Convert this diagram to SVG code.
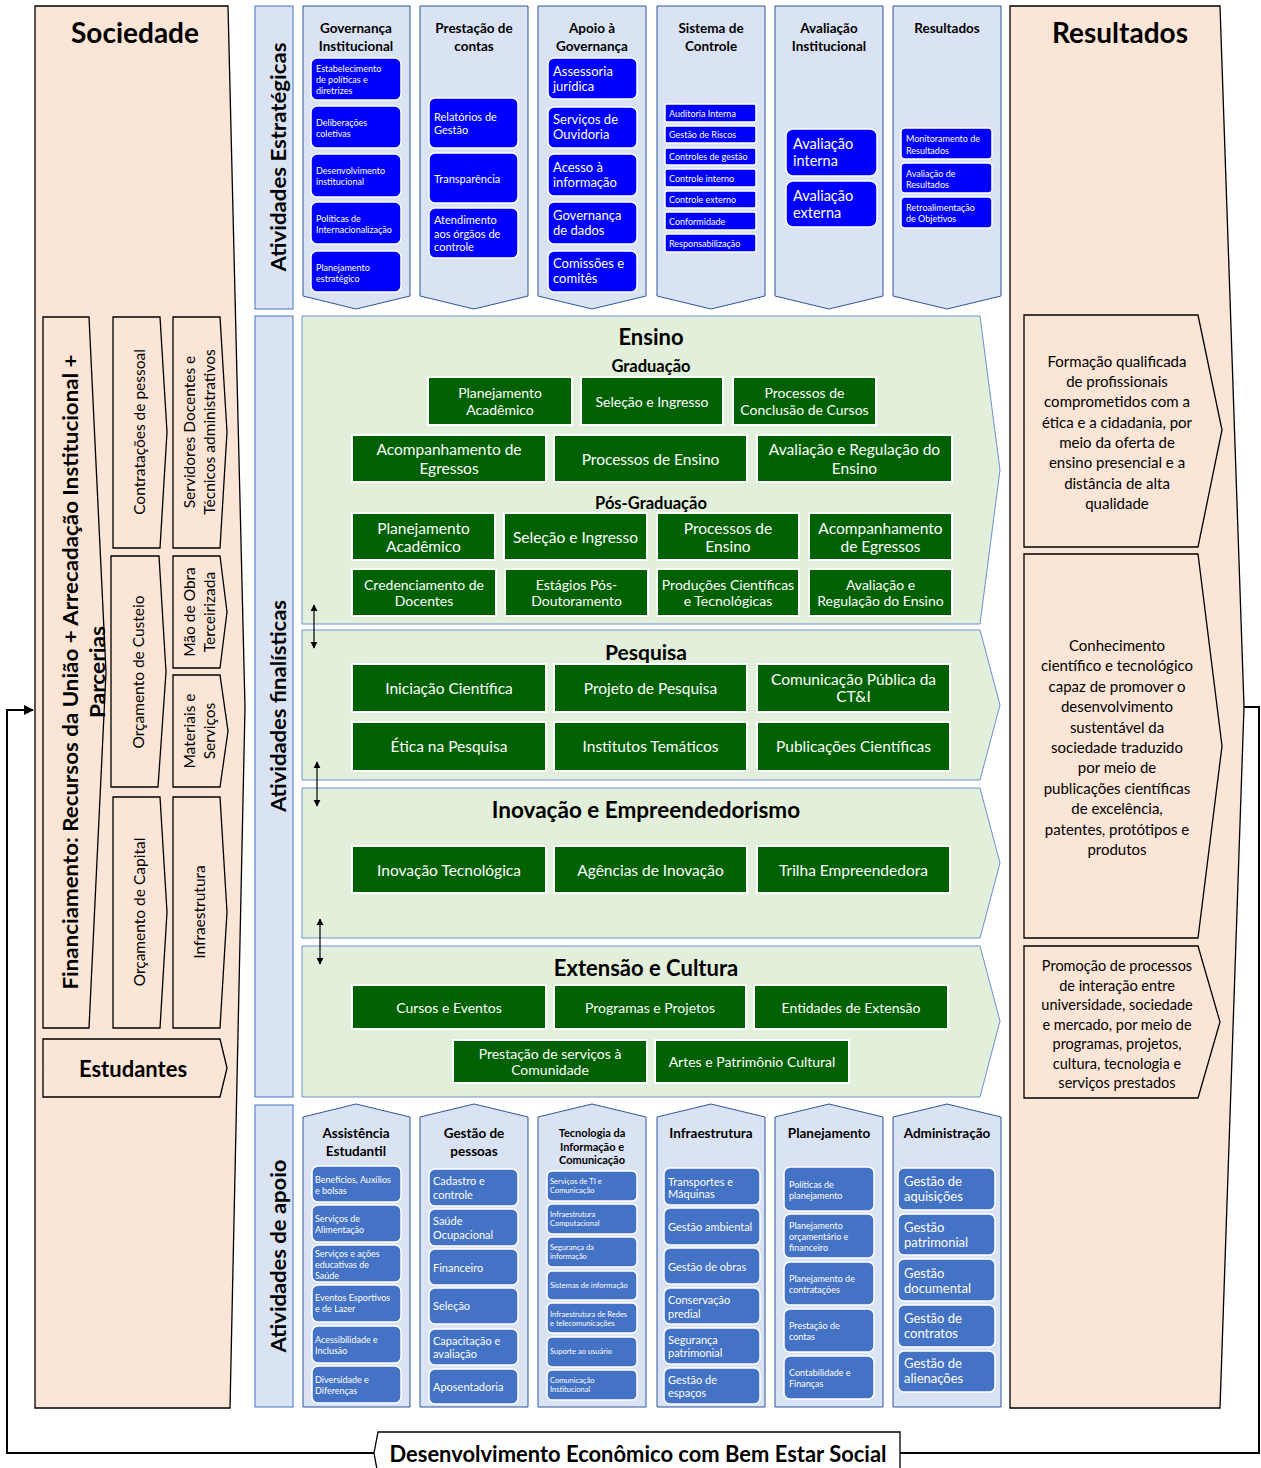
<svg xmlns="http://www.w3.org/2000/svg" width="1261" height="1468" viewBox="0 0 1261 1468">
<style>
text{font-family:Lato,"Open Sans","Noto Sans",sans-serif;dominant-baseline:central;fill:#000}
.w{fill:#fff}
.b{font-weight:bold}
.m{text-anchor:middle}
.sb{fill:#0000ff;stroke:#fff;stroke-width:1.5}
.ab{fill:#4472c4;stroke:#fff;stroke-width:1.5}
.gb{fill:#006100;stroke:#fff;stroke-width:2}
.col{fill:#dae3f3;stroke:#2f5597;stroke-width:1}
.lab{fill:#dae3f3;stroke:#4472c4;stroke-width:1}
.fin{fill:#e2efda;stroke:#6f8fcf;stroke-width:1}
.pe{fill:#fbe5d6;stroke:#000;stroke-width:1.3}
.s9{font-size:9px}.s11{font-size:11px}.s13{font-size:13px}.s14{font-size:14px}.s15{font-size:15px}.s16{font-size:15.5px}
.ln{fill:none;stroke:#000;stroke-width:2}
.dl{stroke:#000;stroke-width:1.2;marker-start:url(#ah);marker-end:url(#ah)}
</style>
<defs>
<marker id="ah" viewBox="0 0 10 10" refX="9" refY="5" markerWidth="6" markerHeight="6" orient="auto-start-reverse"><path d="M0,0 L10,5 L0,10 z" fill="#000"/></marker>
<marker id="ah2" viewBox="0 0 10 10" refX="9" refY="5" markerWidth="5" markerHeight="5" orient="auto"><path d="M0,0 L10,5 L0,10 z" fill="#000"/></marker>
</defs>
<rect width="1261" height="1468" fill="#fff"/>

<!-- Sociedade -->
<g id="sociedade">
<polygon class="pe" points="35,6 228,6 245,707 230,1408 35,1408"/>
<text class="b m" x="135" y="32" font-size="28">Sociedade</text>
</g>
<g id="financiamento">
<polygon class="pe" points="43,317 89,317 106,672 89,1028 43,1028"/>
<text class="b m" font-size="21.5" textLength="635" lengthAdjust="spacingAndGlyphs" transform="translate(70,672) rotate(-90)">Financiamento: Recursos da União + Arrecadação Institucional +</text>
<text class="b m" font-size="21.5" textLength="92" lengthAdjust="spacingAndGlyphs" transform="translate(97,672) rotate(-90)">Parcerias</text>
</g>
<g id="contratacoes">
<polygon class="pe" points="113,317 160,317 167,432 160,548 113,548"/>
<text class="m s16" transform="translate(139,432) rotate(-90)">Contratações de pessoal</text>
</g>
<g id="servidores">
<polygon class="pe" points="173,317 220,317 227,432 220,548 173,548"/>
<text class="m s16" transform="translate(189,432) rotate(-90)">Servidores  Docentes e</text>
<text class="m s16" transform="translate(209,432) rotate(-90)">Técnicos administrativos</text>
</g>
<g id="custeio">
<polygon class="pe" points="111,556 159,556 166,672 158,787 111,787"/>
<text class="m s16" transform="translate(138,672) rotate(-90)">Orçamento de Custeio</text>
</g>
<g id="maodeobra">
<polygon class="pe" points="173,556 220,556 227,612 220,668 173,668"/>
<text class="m s16" transform="translate(189,612) rotate(-90)">Mão de Obra</text>
<text class="m s16" transform="translate(209,612) rotate(-90)">Terceirizada</text>
</g>
<g id="materiais">
<polygon class="pe" points="173,675 220,675 228,731 220,787 173,787"/>
<text class="m s16" transform="translate(189,731) rotate(-90)">Materiais e</text>
<text class="m s16" transform="translate(209,731) rotate(-90)">Serviços</text>
</g>
<g id="capital">
<polygon class="pe" points="113,797 160,797 167,912 160,1028 113,1028"/>
<text class="m s16" transform="translate(139,912) rotate(-90)">Orçamento de Capital</text>
</g>
<g id="infra-soc">
<polygon class="pe" points="173,797 220,797 227,912 220,1028 173,1028"/>
<text class="m s16" transform="translate(199,912) rotate(-90)">Infraestrutura</text>
</g>
<g id="estudantes">
<polygon class="pe" points="43,1039 220,1039 227,1068 220,1097 43,1097"/>
<text class="b m" x="133" y="1068" font-size="22">Estudantes</text>
</g>

<!-- Resultados -->
<g id="resultados">
<polygon class="pe" points="1010,6 1220,6 1244,707 1220,1408 1010,1408"/>
<text class="b m" x="1120" y="32" font-size="28">Resultados</text>
</g>
<g id="res1">
<polygon class="pe" points="1024,315 1198,315 1222,430 1198,547 1024,547"/>
<text class="m s15" x="1117"><tspan x="1117" y="361">Formação qualificada</tspan><tspan x="1117" y="381">de profissionais</tspan><tspan x="1117" y="401">comprometidos com a</tspan><tspan x="1117" y="422">ética e a cidadania, por</tspan><tspan x="1117" y="442">meio da oferta de</tspan><tspan x="1117" y="462">ensino presencial e a</tspan><tspan x="1117" y="483">distância de alta</tspan><tspan x="1117" y="503">qualidade</tspan></text>
</g>
<g id="res2">
<polygon class="pe" points="1024,554 1198,554 1222,746 1198,938 1024,938"/>
<text class="m s15" x="1117"><tspan x="1117" y="645">Conhecimento</tspan><tspan x="1117" y="665">científico e tecnológico</tspan><tspan x="1117" y="686">capaz de promover o</tspan><tspan x="1117" y="706">desenvolvimento</tspan><tspan x="1117" y="727">sustentável da</tspan><tspan x="1117" y="747">sociedade traduzido</tspan><tspan x="1117" y="767">por meio de</tspan><tspan x="1117" y="788">publicações científicas</tspan><tspan x="1117" y="808">de excelência,</tspan><tspan x="1117" y="829">patentes, protótipos e</tspan><tspan x="1117" y="849">produtos</tspan></text>
</g>
<g id="res3">
<polygon class="pe" points="1024,946 1198,946 1220,1022 1198,1098 1024,1098"/>
<text class="m" font-size="14.5" x="1117"><tspan x="1117" y="965">Promoção de processos</tspan><tspan x="1117" y="985">de interação entre</tspan><tspan x="1117" y="1004">universidade, sociedade</tspan><tspan x="1117" y="1024">e mercado, por meio de</tspan><tspan x="1117" y="1043">programas, projetos,</tspan><tspan x="1117" y="1063">cultura, tecnologia  e</tspan><tspan x="1117" y="1082">serviços prestados</tspan></text>
</g>

<!-- Labels -->
<g id="lab-estr"><rect class="lab" x="255" y="6" width="38" height="303"/><text class="b m" font-size="21" textLength="229" lengthAdjust="spacingAndGlyphs" transform="translate(277,157) rotate(-90)">Atividades Estratégicas</text></g>
<g id="lab-fin"><rect class="lab" x="255" y="316" width="38" height="781"/><text class="b m" font-size="21" textLength="212" lengthAdjust="spacingAndGlyphs" transform="translate(277,706) rotate(-90)">Atividades finalísticas</text></g>
<g id="lab-apoio"><rect class="lab" x="255" y="1105" width="38" height="302"/><text class="b m" font-size="21" textLength="193" lengthAdjust="spacingAndGlyphs" transform="translate(277,1256) rotate(-90)">Atividades de apoio</text></g>

<!-- Strategic columns -->
<g id="governanca">
<polygon class="col" points="303,6 410,6 410,296 356,309 303,296"/>
<text class="b m" font-size="13.5" x="356" y="28">Governança</text><text class="b m" font-size="13.5" x="356" y="46">Institucional</text>
<rect class="sb" x="311" y="58" width="90" height="42" rx="6"/><text class="w s9" x="316"><tspan x="316" y="68">Estabelecimento</tspan><tspan x="316" y="79">de políticas e</tspan><tspan x="316" y="90">diretrizes</tspan></text>
<rect class="sb" x="311" y="106" width="90" height="42" rx="6"/><text class="w s9"><tspan x="316" y="122">Deliberações</tspan><tspan x="316" y="133">coletivas</tspan></text>
<rect class="sb" x="311" y="154" width="90" height="43" rx="6"/><text class="w s9"><tspan x="316" y="170">Desenvolvimento</tspan><tspan x="316" y="181">institucional</tspan></text>
<rect class="sb" x="311" y="202" width="90" height="42" rx="6"/><text class="w s9"><tspan x="316" y="218">Políticas de</tspan><tspan x="316" y="229">Internacionalização</tspan></text>
<rect class="sb" x="311" y="251" width="90" height="41" rx="6"/><text class="w s9"><tspan x="316" y="267">Planejamento</tspan><tspan x="316" y="278">estratégico</tspan></text>
</g>
<g id="prestacao">
<polygon class="col" points="420,6 528,6 528,296 474,309 420,296"/>
<text class="b m" font-size="13.5" x="474" y="28">Prestação de</text><text class="b m" font-size="13.5" x="474" y="46">contas</text>
<rect class="sb" x="429" y="98" width="89" height="50" rx="6"/><text class="w s11"><tspan x="434" y="116">Relatórios de</tspan><tspan x="434" y="129">Gestão</tspan></text>
<rect class="sb" x="429" y="153" width="89" height="50" rx="6"/><text class="w s11" x="434" y="178">Transparência</text>
<rect class="sb" x="429" y="208" width="89" height="50" rx="6"/><text class="w s11"><tspan x="434" y="219">Atendimento</tspan><tspan x="434" y="233">aos órgãos de</tspan><tspan x="434" y="246">controle</tspan></text>
</g>
<g id="apoio-gov">
<polygon class="col" points="538,6 646,6 646,296 592,309 538,296"/>
<text class="b m" font-size="13.5" x="592" y="28">Apoio à</text><text class="b m" font-size="13.5" x="592" y="46">Governança</text>
<rect class="sb" x="548" y="58" width="89" height="41" rx="6"/><text class="w s13"><tspan x="553" y="71">Assessoria</tspan><tspan x="553" y="86">jurídica</tspan></text>
<rect class="sb" x="548" y="107" width="89" height="41" rx="6"/><text class="w s13"><tspan x="553" y="119">Serviços de</tspan><tspan x="553" y="134">Ouvidoria</tspan></text>
<rect class="sb" x="548" y="154" width="89" height="42" rx="6"/><text class="w s13"><tspan x="553" y="167">Acesso à</tspan><tspan x="553" y="182">informação</tspan></text>
<rect class="sb" x="548" y="202" width="89" height="42" rx="6"/><text class="w s13"><tspan x="553" y="215">Governança</tspan><tspan x="553" y="230">de dados</tspan></text>
<rect class="sb" x="548" y="251" width="89" height="41" rx="6"/><text class="w s13"><tspan x="553" y="263">Comissões e</tspan><tspan x="553" y="278">comitês</tspan></text>
</g>
<g id="sistema-controle">
<polygon class="col" points="657,6 765,6 765,296 711,309 657,296"/>
<text class="b m" font-size="13.5" x="711" y="28">Sistema de</text><text class="b m" font-size="13.5" x="711" y="46">Controle</text>
<rect class="sb" x="665" y="104" width="91" height="18" rx="2"/><text class="w s9" x="669" y="113">Auditoria Interna</text>
<rect class="sb" x="665" y="126" width="91" height="17" rx="2"/><text class="w s9" x="669" y="134.5">Gestão de Riscos</text>
<rect class="sb" x="665" y="148" width="91" height="17" rx="2"/><text class="w s9" x="669" y="156.5">Controles de gestão</text>
<rect class="sb" x="665" y="169" width="91" height="18" rx="2"/><text class="w s9" x="669" y="178">Controle interno</text>
<rect class="sb" x="665" y="191" width="91" height="17" rx="2"/><text class="w s9" x="669" y="199.5">Controle externo</text>
<rect class="sb" x="665" y="212" width="91" height="18" rx="2"/><text class="w s9" x="669" y="221">Conformidade</text>
<rect class="sb" x="665" y="234" width="91" height="18" rx="2"/><text class="w s9" x="669" y="243">Responsabilização</text>
</g>
<g id="avaliacao-inst">
<polygon class="col" points="775,6 883,6 883,296 829,309 775,296"/>
<text class="b m" font-size="13.5" x="829" y="28">Avaliação</text><text class="b m" font-size="13.5" x="829" y="46">Institucional</text>
<rect class="sb" x="786" y="129" width="91" height="47" rx="7"/><text class="w" font-size="14.5"><tspan x="793" y="143">Avaliação</tspan><tspan x="793" y="160">interna</tspan></text>
<rect class="sb" x="786" y="181" width="91" height="46" rx="7"/><text class="w" font-size="14.5"><tspan x="793" y="195">Avaliação</tspan><tspan x="793" y="212">externa</tspan></text>
</g>
<g id="resultados-estr">
<polygon class="col" points="893,6 1001,6 1001,296 947,309 893,296"/>
<text class="b m" font-size="13.5" x="947" y="28">Resultados</text>
<rect class="sb" x="901" y="128" width="91" height="31" rx="4"/><text class="w s9"><tspan x="906" y="138">Monitoramento de</tspan><tspan x="906" y="150">Resultados</tspan></text>
<rect class="sb" x="901" y="163" width="91" height="30" rx="4"/><text class="w s9"><tspan x="906" y="173">Avaliação de</tspan><tspan x="906" y="184">Resultados</tspan></text>
<rect class="sb" x="901" y="197" width="91" height="31" rx="4"/><text class="w s9"><tspan x="906" y="207">Retroalimentação</tspan><tspan x="906" y="218">de Objetivos</tspan></text>
</g>

<!-- Finalistic -->
<g id="ensino">
<polygon class="fin" points="302,316 980,316 1000,470 980,624 302,624"/>
<text class="b m" x="651" y="336" font-size="22">Ensino</text>
<text class="b m" x="651" y="366" font-size="16.5">Graduação</text>
<rect class="gb" x="428" y="377" width="144" height="48"/><text class="w m s14"><tspan x="500" y="392">Planejamento</tspan><tspan x="500" y="409">Acadêmico</tspan></text>
<rect class="gb" x="581" y="377" width="142" height="48"/><text class="w m s14" x="652" y="401">Seleção e Ingresso</text>
<rect class="gb" x="733" y="377" width="143" height="48"/><text class="w m s14"><tspan x="804.5" y="392">Processos de</tspan><tspan x="804.5" y="409">Conclusão de Cursos</tspan></text>
<rect class="gb" x="352" y="435" width="194" height="47"/><text class="w m s16"><tspan x="449" y="449">Acompanhamento de</tspan><tspan x="449" y="468">Egressos</tspan></text>
<rect class="gb" x="554" y="435" width="193" height="47"/><text class="w m s16" x="650.5" y="458.5">Processos de Ensino</text>
<rect class="gb" x="757" y="435" width="195" height="47"/><text class="w m s16"><tspan x="854.5" y="449">Avaliação e Regulação do</tspan><tspan x="854.5" y="468">Ensino</tspan></text>
<text class="b m" x="651" y="503" font-size="16.5">Pós-Graduação</text>
<rect class="gb" x="352" y="513" width="143" height="47"/><text class="w m s16"><tspan x="423.5" y="528">Planejamento</tspan><tspan x="423.5" y="546">Acadêmico</tspan></text>
<rect class="gb" x="504" y="513" width="143" height="47"/><text class="w m s16" x="575.5" y="537">Seleção e Ingresso</text>
<rect class="gb" x="657" y="513" width="142" height="47"/><text class="w m s16"><tspan x="728" y="528">Processos de</tspan><tspan x="728" y="546">Ensino</tspan></text>
<rect class="gb" x="809" y="513" width="143" height="47"/><text class="w m s16"><tspan x="880.5" y="528">Acompanhamento</tspan><tspan x="880.5" y="546">de Egressos</tspan></text>
<rect class="gb" x="352" y="569" width="144" height="47"/><text class="w m s14"><tspan x="424" y="584">Credenciamento de</tspan><tspan x="424" y="600">Docentes</tspan></text>
<rect class="gb" x="505" y="569" width="143" height="47"/><text class="w m s14"><tspan x="576.5" y="584">Estágios Pós-</tspan><tspan x="576.5" y="600">Doutoramento</tspan></text>
<rect class="gb" x="657" y="569" width="142" height="47"/><text class="w m s14"><tspan x="728" y="584">Produções Científicas</tspan><tspan x="728" y="600">e Tecnológicas</tspan></text>
<rect class="gb" x="809" y="569" width="143" height="47"/><text class="w m s14"><tspan x="880.5" y="584">Avaliação e</tspan><tspan x="880.5" y="600">Regulação do Ensino</tspan></text>
</g>
<g id="pesquisa">
<polygon class="fin" points="302,630 980,630 1000,705 980,780 302,780"/>
<text class="b m" x="646" y="651" font-size="21">Pesquisa</text>
<rect class="gb" x="352" y="664" width="194" height="48"/><text class="w m s16" x="449" y="688">Iniciação Científica</text>
<rect class="gb" x="554" y="664" width="193" height="48"/><text class="w m s16" x="650.5" y="688">Projeto de Pesquisa</text>
<rect class="gb" x="757" y="664" width="193" height="48"/><text class="w m s16"><tspan x="853.5" y="679">Comunicação Pública da</tspan><tspan x="853.5" y="696">CT&amp;I</tspan></text>
<rect class="gb" x="352" y="722" width="194" height="49"/><text class="w m s16" x="449" y="746">Ética na Pesquisa</text>
<rect class="gb" x="554" y="722" width="193" height="49"/><text class="w m s16" x="650.5" y="746">Institutos Temáticos</text>
<rect class="gb" x="757" y="722" width="193" height="49"/><text class="w m s16" x="853.5" y="746">Publicações Científicas</text>
</g>
<g id="inovacao">
<polygon class="fin" points="302,788 980,788 1000,863 980,938 302,938"/>
<text class="b m" x="646" y="809" font-size="22.5">Inovação e Empreendedorismo</text>
<rect class="gb" x="352" y="846" width="194" height="47"/><text class="w m s16" x="449" y="870">Inovação Tecnológica</text>
<rect class="gb" x="554" y="846" width="193" height="47"/><text class="w m s16" x="650.5" y="870">Agências de Inovação</text>
<rect class="gb" x="757" y="846" width="193" height="47"/><text class="w m s16" x="853.5" y="870">Trilha Empreendedora</text>
</g>
<g id="extensao">
<polygon class="fin" points="302,946 980,946 1000,1021 980,1097 302,1097"/>
<text class="b m" x="646" y="967" font-size="22">Extensão e Cultura</text>
<rect class="gb" x="352" y="985" width="194" height="44"/><text class="w m s14" x="449" y="1007">Cursos e Eventos</text>
<rect class="gb" x="554" y="985" width="192" height="44"/><text class="w m s14" x="650" y="1007">Programas e Projetos</text>
<rect class="gb" x="754" y="985" width="194" height="44"/><text class="w m s14" x="851" y="1007">Entidades de Extensão</text>
<rect class="gb" x="453" y="1040" width="194" height="43"/><text class="w m s14"><tspan x="550" y="1053">Prestação de serviços à</tspan><tspan x="550" y="1069">Comunidade</tspan></text>
<rect class="gb" x="655" y="1040" width="194" height="43"/><text class="w m s14" x="752" y="1061">Artes e Patrimônio Cultural</text>
</g>

<!-- Support columns -->
<g id="assistencia">
<polygon class="col" points="303,1117 356,1104 410,1117 410,1407 303,1407"/>
<text class="b m" font-size="13.5" x="356" y="1133">Assistência</text><text class="b m" font-size="13.5" x="356" y="1151">Estudantil</text>
<rect class="ab" x="312" y="1166" width="89" height="36" rx="6"/><text class="w s9"><tspan x="315" y="1179">Benefícios, Auxílios</tspan><tspan x="315" y="1190">e bolsas</tspan></text>
<rect class="ab" x="312" y="1205" width="89" height="37" rx="6"/><text class="w s9"><tspan x="315" y="1218">Serviços de</tspan><tspan x="315" y="1229">Alimentação</tspan></text>
<rect class="ab" x="312" y="1245" width="89" height="37" rx="6"/><text class="w s9"><tspan x="315" y="1253">Serviços e ações</tspan><tspan x="315" y="1264">educativas de</tspan><tspan x="315" y="1275">Saúde</tspan></text>
<rect class="ab" x="312" y="1285" width="89" height="37" rx="6"/><text class="w s9"><tspan x="315" y="1297">Eventos Esportivos</tspan><tspan x="315" y="1308">e de Lazer</tspan></text>
<rect class="ab" x="312" y="1326" width="89" height="37" rx="6"/><text class="w s9"><tspan x="315" y="1339">Acessibilidade e</tspan><tspan x="315" y="1350">Inclusão</tspan></text>
<rect class="ab" x="312" y="1366" width="89" height="37" rx="6"/><text class="w s9"><tspan x="315" y="1379">Diversidade e</tspan><tspan x="315" y="1390">Diferenças</tspan></text>
</g>
<g id="gestao-pessoas">
<polygon class="col" points="420,1117 474,1104 528,1117 528,1407 420,1407"/>
<text class="b m" font-size="13.5" x="474" y="1133">Gestão de</text><text class="b m" font-size="13.5" x="474" y="1151">pessoas</text>
<rect class="ab" x="429" y="1169" width="89" height="37" rx="6"/><text class="w s11"><tspan x="433" y="1180">Cadastro e</tspan><tspan x="433" y="1194">controle</tspan></text>
<rect class="ab" x="429" y="1209" width="89" height="37" rx="6"/><text class="w s11"><tspan x="433" y="1220">Saúde</tspan><tspan x="433" y="1234">Ocupacional</tspan></text>
<rect class="ab" x="429" y="1249" width="89" height="36" rx="6"/><text class="w s11" x="433" y="1267">Financeiro</text>
<rect class="ab" x="429" y="1288" width="89" height="36" rx="6"/><text class="w s11" x="433" y="1305">Seleção</text>
<rect class="ab" x="429" y="1329" width="89" height="36" rx="6"/><text class="w s11"><tspan x="433" y="1340">Capacitação e</tspan><tspan x="433" y="1353">avaliação</tspan></text>
<rect class="ab" x="429" y="1369" width="89" height="35" rx="6"/><text class="w s11" x="433" y="1386">Aposentadoria</text>
</g>
<g id="tic">
<polygon class="col" points="538,1117 592,1104 646,1117 646,1407 538,1407"/>
<text class="b m s11" x="592" y="1132">Tecnologia da</text><text class="b m s11" x="592" y="1146">Informação e</text><text class="b m s11" x="592" y="1159">Comunicação</text>
<rect class="ab" x="547" y="1171" width="90" height="30" rx="5"/><text class="w" font-size="7.5"><tspan x="550" y="1181">Serviços de TI e</tspan><tspan x="550" y="1190">Comunicação</tspan></text>
<rect class="ab" x="547" y="1204" width="90" height="30" rx="5"/><text class="w" font-size="7.5"><tspan x="550" y="1214">Infraestrutura</tspan><tspan x="550" y="1223">Computacional</tspan></text>
<rect class="ab" x="547" y="1237" width="90" height="30" rx="5"/><text class="w" font-size="7.5"><tspan x="550" y="1247">Segurança da</tspan><tspan x="550" y="1256">informação</tspan></text>
<rect class="ab" x="547" y="1271" width="90" height="29" rx="5"/><text class="w" font-size="7.5" x="550" y="1285">Sistemas de informação</text>
<rect class="ab" x="547" y="1303" width="90" height="30" rx="5"/><text class="w" font-size="7.5"><tspan x="550" y="1314">Infraestrutura de Redes</tspan><tspan x="550" y="1323">e telecomunicações</tspan></text>
<rect class="ab" x="547" y="1337" width="90" height="30" rx="5"/><text class="w" font-size="7.5" x="550" y="1351">Suporte ao usuário</text>
<rect class="ab" x="547" y="1370" width="90" height="30" rx="5"/><text class="w" font-size="7.5"><tspan x="550" y="1380">Comunicação</tspan><tspan x="550" y="1389">Institucional</tspan></text>
</g>
<g id="infraestrutura">
<polygon class="col" points="657,1117 711,1104 765,1117 765,1407 657,1407"/>
<text class="b m" font-size="13.5" x="711" y="1133">Infraestrutura</text>
<rect class="ab" x="664" y="1168" width="96" height="37" rx="6"/><text class="w s11"><tspan x="668" y="1181">Transportes e</tspan><tspan x="668" y="1193">Máquinas</tspan></text>
<rect class="ab" x="664" y="1208" width="96" height="37" rx="6"/><text class="w s11" x="668" y="1226">Gestão ambiental</text>
<rect class="ab" x="664" y="1248" width="96" height="36" rx="6"/><text class="w s11" x="668" y="1266">Gestão de obras</text>
<rect class="ab" x="664" y="1288" width="96" height="36" rx="6"/><text class="w s11"><tspan x="668" y="1299">Conservação</tspan><tspan x="668" y="1313">predial</tspan></text>
<rect class="ab" x="664" y="1328" width="96" height="36" rx="6"/><text class="w s11"><tspan x="668" y="1339">Segurança</tspan><tspan x="668" y="1352">patrimonial</tspan></text>
<rect class="ab" x="664" y="1368" width="96" height="36" rx="6"/><text class="w s11"><tspan x="668" y="1379">Gestão de</tspan><tspan x="668" y="1392">espaços</tspan></text>
</g>
<g id="planejamento">
<polygon class="col" points="775,1117 829,1104 883,1117 883,1407 775,1407"/>
<text class="b m" font-size="13.5" x="829" y="1133">Planejamento</text>
<rect class="ab" x="784" y="1167" width="90" height="44" rx="6"/><text class="w s9"><tspan x="789" y="1184">Políticas de</tspan><tspan x="789" y="1195">planejamento</tspan></text>
<rect class="ab" x="784" y="1214" width="90" height="44" rx="6"/><text class="w s9"><tspan x="789" y="1225">Planejamento</tspan><tspan x="789" y="1236">orçamentário e</tspan><tspan x="789" y="1247">financeiro</tspan></text>
<rect class="ab" x="784" y="1262" width="90" height="43" rx="6"/><text class="w s9"><tspan x="789" y="1278">Planejamento de</tspan><tspan x="789" y="1289">contratações</tspan></text>
<rect class="ab" x="784" y="1309" width="90" height="43" rx="6"/><text class="w s9"><tspan x="789" y="1325">Prestação de</tspan><tspan x="789" y="1336">contas</tspan></text>
<rect class="ab" x="784" y="1356" width="90" height="43" rx="6"/><text class="w s9"><tspan x="789" y="1372">Contabilidade e</tspan><tspan x="789" y="1383">Finanças</tspan></text>
</g>
<g id="administracao">
<polygon class="col" points="893,1117 947,1104 1001,1117 1001,1407 893,1407"/>
<text class="b m" font-size="13.5" x="947" y="1133">Administração</text>
<rect class="ab" x="898" y="1168" width="97" height="42" rx="6"/><text class="w s13"><tspan x="904" y="1181">Gestão de</tspan><tspan x="904" y="1196">aquisições</tspan></text>
<rect class="ab" x="898" y="1214" width="97" height="41" rx="6"/><text class="w s13"><tspan x="904" y="1227">Gestão</tspan><tspan x="904" y="1242">patrimonial</tspan></text>
<rect class="ab" x="898" y="1259" width="97" height="42" rx="6"/><text class="w s13"><tspan x="904" y="1273">Gestão</tspan><tspan x="904" y="1288">documental</tspan></text>
<rect class="ab" x="898" y="1305" width="97" height="42" rx="6"/><text class="w s13"><tspan x="904" y="1318">Gestão de</tspan><tspan x="904" y="1333">contratos</tspan></text>
<rect class="ab" x="898" y="1351" width="97" height="41" rx="6"/><text class="w s13"><tspan x="904" y="1363">Gestão de</tspan><tspan x="904" y="1378">alienações</tspan></text>
</g>

<!-- Footer -->
<g id="desenvolvimento">
<polygon points="378,1432 900,1432 900,1475 378,1475 374,1453" fill="#fff" stroke="#000" stroke-width="1.3"/>
<text class="b m" x="638" y="1453" font-size="22" textLength="497" lengthAdjust="spacingAndGlyphs">Desenvolvimento Econômico com Bem Estar Social</text>
</g>

<!-- Connectors -->
<g id="connectors">
<polyline class="ln" points="1244,707 1259,707 1259,1453 900,1453"/>
<polyline class="ln" points="374,1453 7,1453 7,710 33,710" marker-end="url(#ah2)"/>
<line class="dl" x1="314" y1="605" x2="314" y2="648"/>
<line class="dl" x1="317" y1="762" x2="317" y2="806"/>
<line class="dl" x1="320" y1="919" x2="320" y2="964"/>
</g>
</svg>
